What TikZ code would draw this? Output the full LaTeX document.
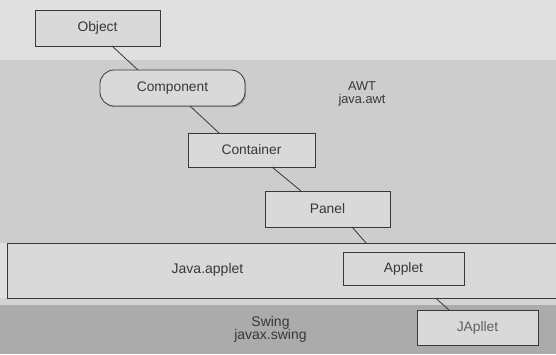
\documentclass[tikz,border=0pt]{standalone}
\usepackage{fontspec}
\setmainfont{Liberation Sans}
\usetikzlibrary{shadows}
\definecolor{paper}{HTML}{E0E0E0}
\definecolor{awtgray}{HTML}{CDCDCD}
\definecolor{bandgray}{HTML}{D9D9D9}
\definecolor{stripgray}{HTML}{D3D3D3}
\definecolor{swinggray}{HTML}{ABABAB}
\definecolor{boxfill}{HTML}{D9D9D9}
\definecolor{ink}{HTML}{383838}
\tikzset{
  x=1pt, y=-1pt,
  classbox/.style={draw=ink, line width=0.8pt, fill=boxfill, text=ink,
    font=\fontsize{13.8}{15}\selectfont, inner sep=0pt,
    drop shadow={shadow xshift=1.2pt, shadow yshift=-1.2pt, opacity=0.45, fill=black!60}},
  link/.style={draw=ink, line width=0.8pt},
  pkglabel/.style={text=ink, font=\fontsize{12.8}{13}\selectfont, align=center, inner sep=0pt},
  biglabel/.style={text=ink, font=\fontsize{14}{13.5}\selectfont, align=center, inner sep=0pt}
}
\begin{document}
\begin{tikzpicture}
% backdrop and package regions
\fill[paper] (0,0) rectangle (556,354);
\useasboundingbox (0,0) rectangle (556,354);
\fill[awtgray] (0,60) rectangle (556,243);
\fill[stripgray] (0,298) rectangle (556,305);
\fill[swinggray] (0,305) rectangle (556,354);

% classes
\node[classbox, minimum width=125pt, minimum height=36pt] (object) at (97.5,28) {Object};
\node[classbox, rounded corners=14pt, minimum width=145pt, minimum height=36pt] (component) at (172.5,88) {Component};
\node[classbox, minimum width=127pt, minimum height=34pt] (container) at (251.5,150) {Container};
\node[classbox, minimum width=125pt, minimum height=36pt] (panel) at (327.5,209) {Panel};

% inheritance links
\coordinate (objB) at (112,46);
\coordinate (compT) at (138,70);
\coordinate (compB) at (190,106);
\coordinate (contT) at (219,133);
\coordinate (contB) at (272,167);
\coordinate (panT) at (301,191);
\coordinate (panB) at (352,227);
\coordinate (appT) at (374,252);
\coordinate (appB) at (421,285);
\coordinate (japT) at (449,310);
\draw[link] (objB) -- (compT);
\draw[link] (compB) -- (contT);
\draw[link] (contB) -- (panT);
\draw[link] (panB) -- (appT);
\draw[link] (appB) -- (japT);

% java.applet package band
\draw[draw=ink, line width=0.8pt, fill=bandgray] (7,243) rectangle (560,298);

\node[classbox, minimum width=121pt, minimum height=33pt] (applet) at (403.5,268.5) {Applet};
\node[classbox, minimum width=121pt, minimum height=35pt, text=ink!80] (japplet) at (477.5,327.5) {JApllet};

% package names
\node[pkglabel] (awt) at (362,94) {AWT\\java.awt};
\node[biglabel] (jappl) at (207.5,270) {Java.applet};
\node[biglabel] (swing) at (270.5,329.5) {Swing\\javax.swing};
\end{tikzpicture}
\end{document}
